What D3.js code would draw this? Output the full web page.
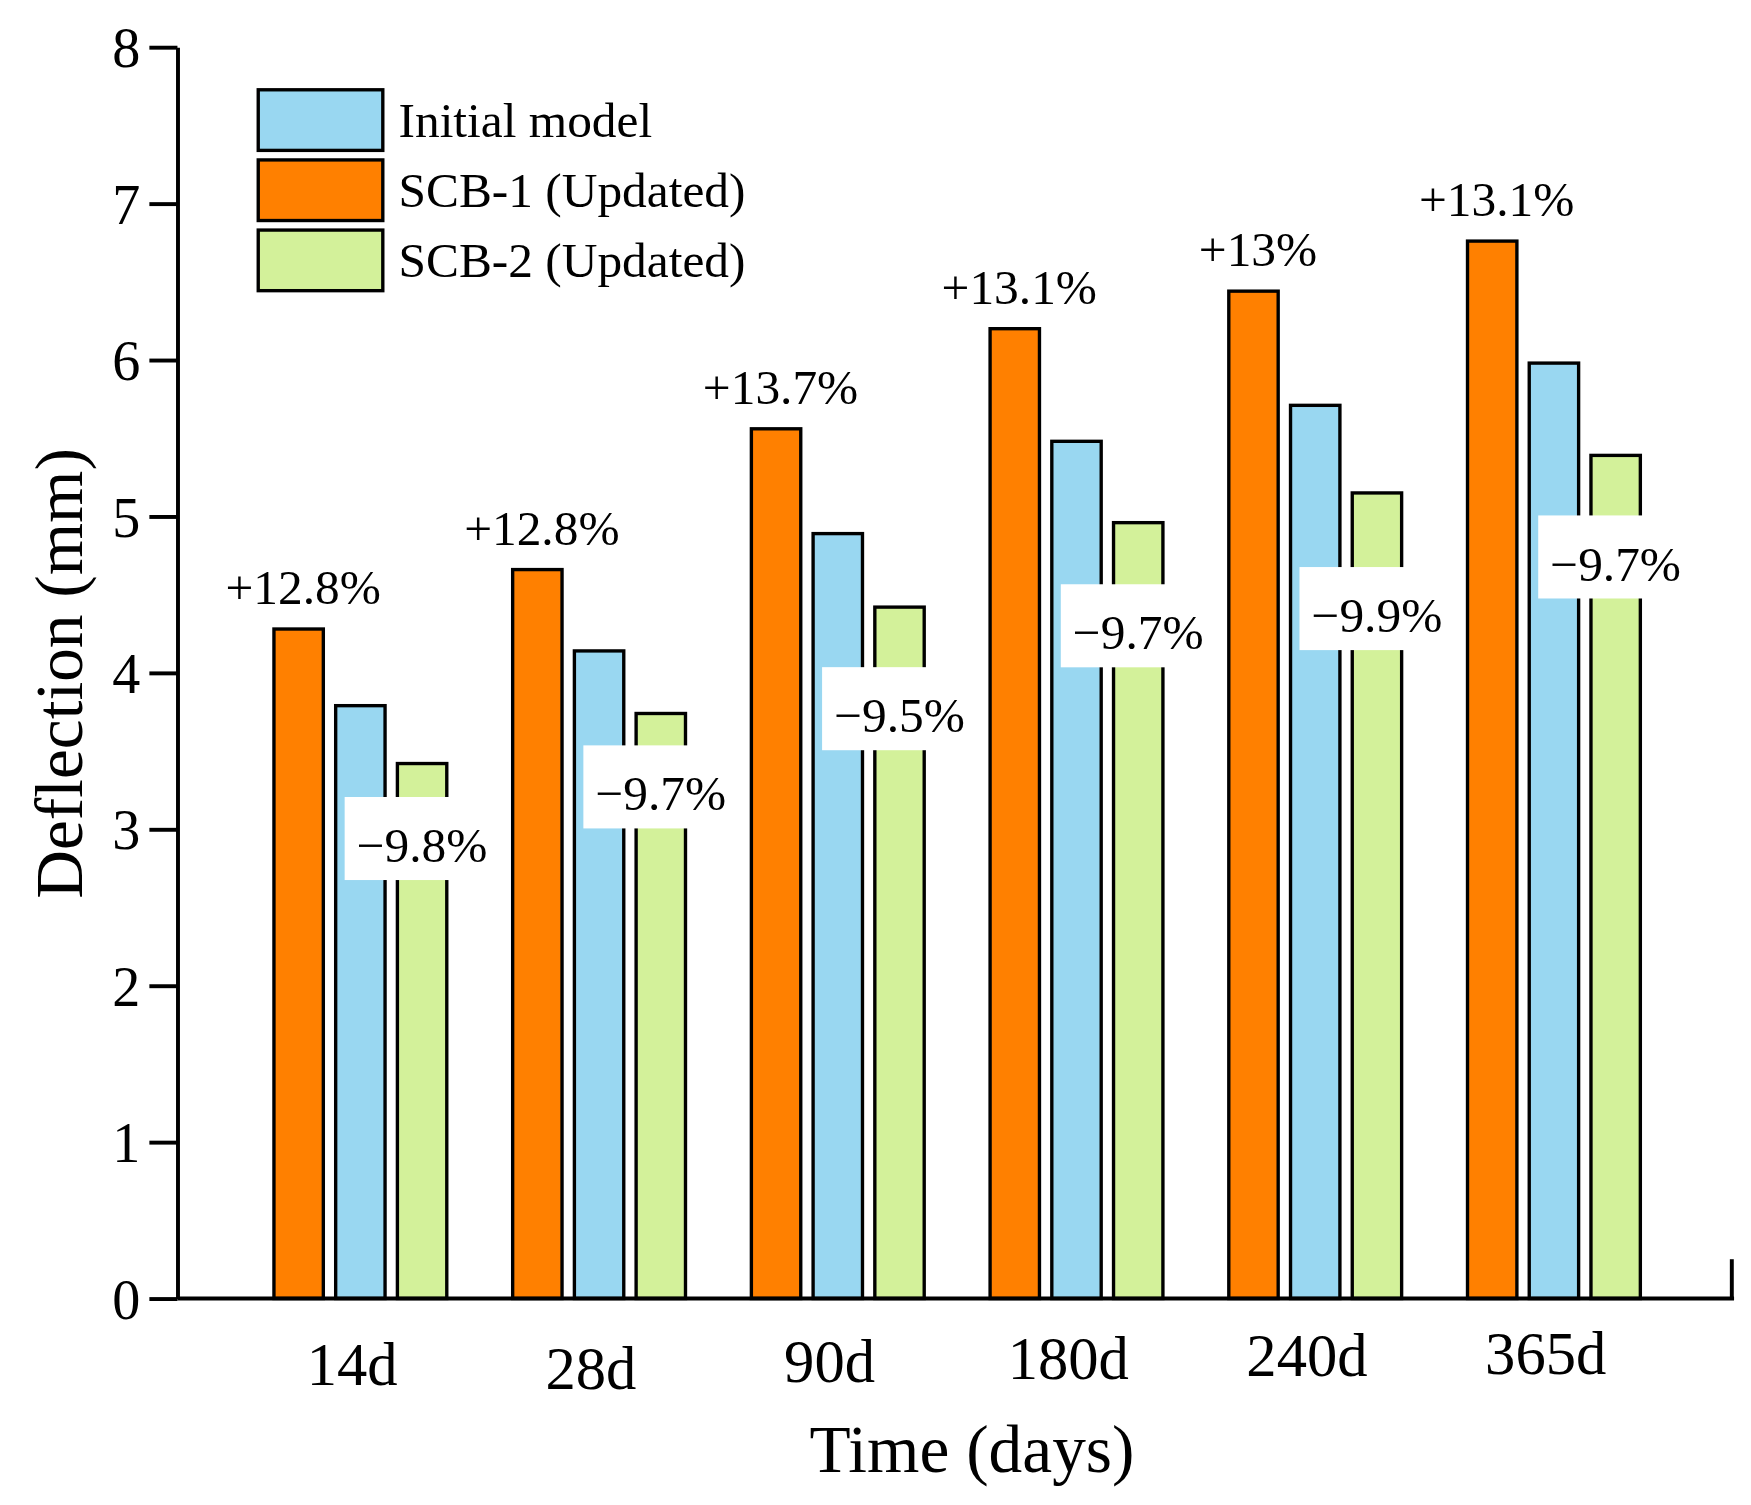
<!DOCTYPE html>
<html><head><meta charset="utf-8">
<script src="https://cdn.jsdelivr.net/npm/d3@7"></script>
<style>body{margin:0;background:#fff}svg{display:block}text{font-family:"Liberation Serif","Times New Roman",serif}</style>
</head><body>
<script>
const categories = ["14d","28d","90d","180d","240d","365d"];
const seriesNames = ["SCB-1 (Updated)","Initial model","SCB-2 (Updated)"];
const scb1 = [4.28,4.66,5.56,6.20,6.44,6.76];
const initial = [3.79,4.14,4.89,5.48,5.71,5.98];
const scb2 = [3.42,3.74,4.42,4.96,5.15,5.39];
const posLabels = ["+12.8%","+12.8%","+13.7%","+13.1%","+13%","+13.1%"];
const negLabels = ["\u22129.8%","\u22129.7%","\u22129.5%","\u22129.7%","\u22129.9%","\u22129.7%"];
const negLabelY = [2.79,3.12,3.62,4.15,4.26,4.59];
const catLabelDy = [0,4,-3,-5,-8,-10];
const yTicks = [0,1,2,3,4,5,6,7,8];
const colors = {"Initial model":"#99D7F1","SCB-1 (Updated)":"#FF8000","SCB-2 (Updated)":"#D3F19A"};
const legendOrder = ["Initial model","SCB-1 (Updated)","SCB-2 (Updated)"];

const W=1560,H=1341;
const svg=d3.select("body").append("svg").attr("width",1751).attr("height",1505).attr("viewBox",`0 0 ${W} ${H}`);
const x0=158,x1=1545,yTop=42,yBot=1157;
const y=d3.scaleLinear().domain([0,8]).range([yBot,yTop]);
const xg=d3.scaleBand().domain(categories).range([212.3,212.3+6*212.7]);
const xs=d3.scaleBand().domain(seriesNames).range([31.7,185.7]).paddingInner(0.2).paddingOuter(0);
const vals={"SCB-1 (Updated)":scb1,"Initial model":initial,"SCB-2 (Updated)":scb2};

// bars
seriesNames.forEach(s=>{
  svg.append("g").selectAll("rect").data(categories).join("rect")
    .attr("x",c=>xg(c)+xs(s)).attr("width",xs.bandwidth())
    .attr("y",(c,i)=>y(vals[s][i])).attr("height",(c,i)=>y(0)-y(vals[s][i]))
    .attr("fill",colors[s]).attr("stroke","#000").attr("stroke-width",3);
});

// positive labels
svg.append("g").selectAll("text").data(categories).join("text")
  .attr("x",c=>xg(c)+xs(seriesNames[0])+xs.bandwidth()/2+4)
  .attr("y",(c,i)=>y(scb1[i])-22).attr("text-anchor","middle")
  .attr("font-size",44).text((c,i)=>posLabels[i]);

// negative labels with white boxes
const ng=svg.append("g");
categories.forEach((c,i)=>{
  const cx=xg(c)+xs(seriesNames[2])+xs.bandwidth()/2;
  const by=y(negLabelY[i]);
  ng.append("rect").attr("x",cx-69).attr("y",by-58).attr("width",138).attr("height",74).attr("fill","#fff");
  ng.append("text").attr("x",cx).attr("y",by).attr("text-anchor","middle").attr("font-size",44).text(negLabels[i]);
});

// y axis
const ya=svg.append("g").attr("transform",`translate(${x0},0)`)
  .call(d3.axisLeft(y).tickValues(yTicks).tickSize(25).tickPadding(8).tickSizeOuter(0));
ya.select(".domain").attr("stroke-width",3.5);
ya.selectAll(".tick line").attr("stroke-width",3.5);
ya.selectAll("text").attr("font-size",50).attr("font-family","Liberation Serif").attr("fill","#000").attr("dy","0.35em");

// x axis
const xa=svg.append("g").attr("transform",`translate(0,${yBot})`)
  .call(d3.axisBottom(xg).tickSize(0).tickPadding(0));
xa.select(".domain").remove();
svg.append("line").attr("x1",x0).attr("x2",x1).attr("y1",yBot).attr("y2",yBot).attr("stroke","#000").attr("stroke-width",3.5);
svg.append("line").attr("x1",x1-2).attr("x2",x1-2).attr("y1",yBot).attr("y2",yBot-35).attr("stroke","#000").attr("stroke-width",3.5);
xa.selectAll(".tick text").attr("font-size",54).attr("font-family","Liberation Serif").attr("fill","#000")
  .attr("y",(c,i)=>77+catLabelDy[i]).attr("dy",0)
  .attr("transform","translate(-5,0)");

// titles
svg.append("text").attr("x",866).attr("y",1312).attr("text-anchor","middle").attr("font-size",60).text("Time (days)");
svg.append("text").attr("transform","translate(73,600) rotate(-90)").attr("text-anchor","middle").attr("font-size",60).text("Deflection (mm)");

// legend
const lg=svg.append("g");
legendOrder.forEach((s,i)=>{
  const ly=80+i*62.5;
  lg.append("rect").attr("x",230).attr("y",ly).attr("width",111).attr("height",54).attr("fill",colors[s]).attr("stroke","#000").attr("stroke-width",3);
  lg.append("text").attr("x",355).attr("y",ly+42).attr("font-size",44).text(s);
});
</script>
</body></html>
